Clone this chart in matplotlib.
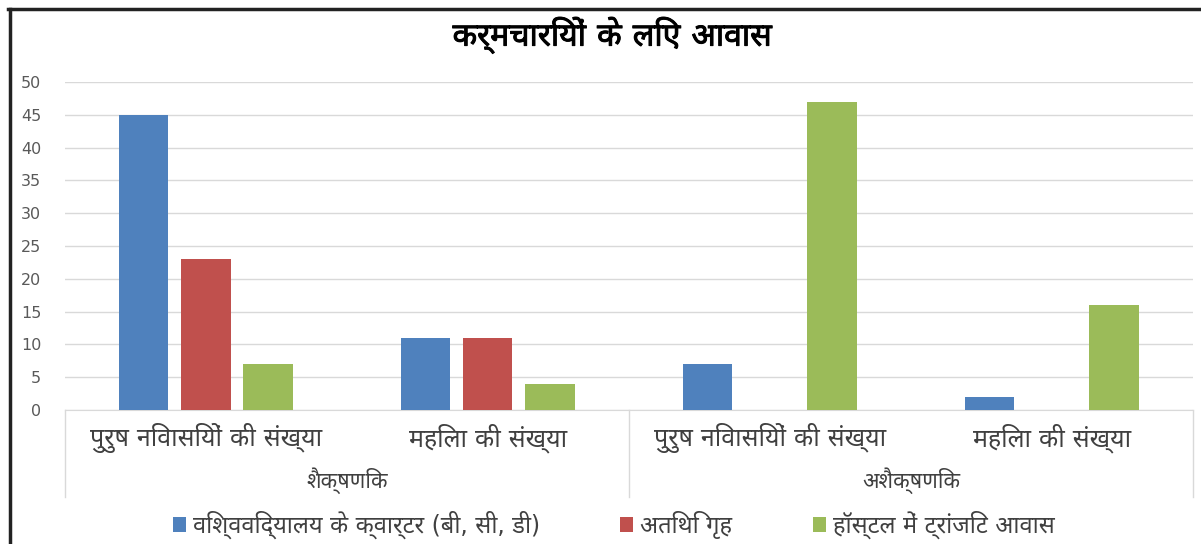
import matplotlib
matplotlib.use('Agg')
import matplotlib.pyplot as plt
import matplotlib.transforms as mtransforms
import matplotlib.patheffects as pe
from matplotlib import font_manager, ft2font
from matplotlib.lines import Line2D
from matplotlib.patches import Patch
import numpy as np

# data
categories = ['पुरुष निवासियों की संख्या', 'महिला की संख्या',
              'पुरुष निवासियों की संख्या', 'महिला की संख्या']
groups = ['शैक्षणिक', 'अशैक्षणिक']
series = ['विश्वविद्यालय के क्वार्टर (बी, सी, डी)', 'अतिथि गृह', 'हॉस्टल में ट्रांजिट आवास']
quarters = [45, 11, 7, 2]
guest_house = [23, 11, 0, 0]
hostel = [7, 4, 47, 16]
yticks = [0, 5, 10, 15, 20, 25, 30, 35, 40, 45, 50]
title = 'कर्मचारियों के लिए आवास'

colors = ['#4F81BD', '#C0504D', '#9BBB59']


def pick_deva_font():
    # names of installed fonts that carry Devanagari glyphs
    names = set()
    for f in font_manager.fontManager.ttflist:
        try:
            ft = ft2font.FT2Font(f.fname)
            if 0x0915 in ft.get_charmap():
                names.add(f.name)
        except Exception:
            pass
    preferred = ['Noto Sans Devanagari', 'Hind', 'Mukta', 'Yantramanav',
                 'Noto Sans Devanagari UI', 'Poppins', 'Amiko', 'Akshar']
    for p in preferred:
        if p in names:
            return p
    return sorted(names)[0] if names else None


deva = pick_deva_font()
fams = ['DejaVu Sans'] + ([deva] if deva else [])
plt.rcParams['font.family'] = fams

fig = plt.figure(figsize=(12.01, 5.44), dpi=100)
ax = fig.add_axes([0.0541, 0.2463, 0.9392, 0.603])

x = np.arange(len(categories))
w = 0.174
off = 0.22
for i, vals in enumerate([quarters, guest_house, hostel]):
    v = np.array(vals, dtype=float)
    ax.bar(x + (i - 1) * off, v, width=w, color=colors[i], zorder=3)

ax.set_xlim(-0.5, 3.5)
ax.set_ylim(0, 50)
ax.set_yticks(yticks)
ax.yaxis.grid(True, color='#D9D9D9', linewidth=1, zorder=0)
ax.tick_params(axis='y', length=0, pad=17, labelsize=11.5, labelcolor='#595959')
for lab in ax.get_yticklabels():
    lab.set_fontfamily('DejaVu Sans')
ax.set_xticks([])
for s in ['top', 'right', 'left']:
    ax.spines[s].set_visible(False)
ax.spines['bottom'].set_color('#D9D9D9')

# multi-level category axis
trans = mtransforms.blended_transform_factory(ax.transData, ax.transAxes)
for i, c in enumerate(categories):
    ax.text(x[i], -0.085, c, transform=trans, ha='center', va='center',
            fontsize=18, color='#404040')
for j, g in enumerate(groups):
    ax.text(0.5 + 2 * j, -0.215, g, transform=trans, ha='center', va='center',
            fontsize=15.5, color='#404040')
for xs in [-0.5, 1.5, 3.5]:
    ax.add_line(Line2D([xs, xs], [0, -0.265], transform=trans, color='#D9D9D9',
                       linewidth=1, clip_on=False))

fig.text(0.51, 0.935, title, ha='center', va='center', fontsize=23,
         fontweight='bold', color='black',
         path_effects=[pe.withStroke(linewidth=0.7, foreground='black')])

handles = [Patch(facecolor=colors[i]) for i in range(3)]
fig.legend(handles, series, loc='center', bbox_to_anchor=(0.511, 0.035), ncol=3,
           frameon=False, fontsize=17, handlelength=0.55, handleheight=0.55,
           handletextpad=0.3, columnspacing=3.4, labelcolor='#404040')

# border lines
fig.add_artist(Line2D([0.007, 1.0], [0.983, 0.983], transform=fig.transFigure,
                      color='#222222', linewidth=2.5))
fig.add_artist(Line2D([0.008, 0.008], [0.0, 0.983], transform=fig.transFigure,
                      color='#222222', linewidth=2.5))

fig.savefig('out.png', dpi=100)
